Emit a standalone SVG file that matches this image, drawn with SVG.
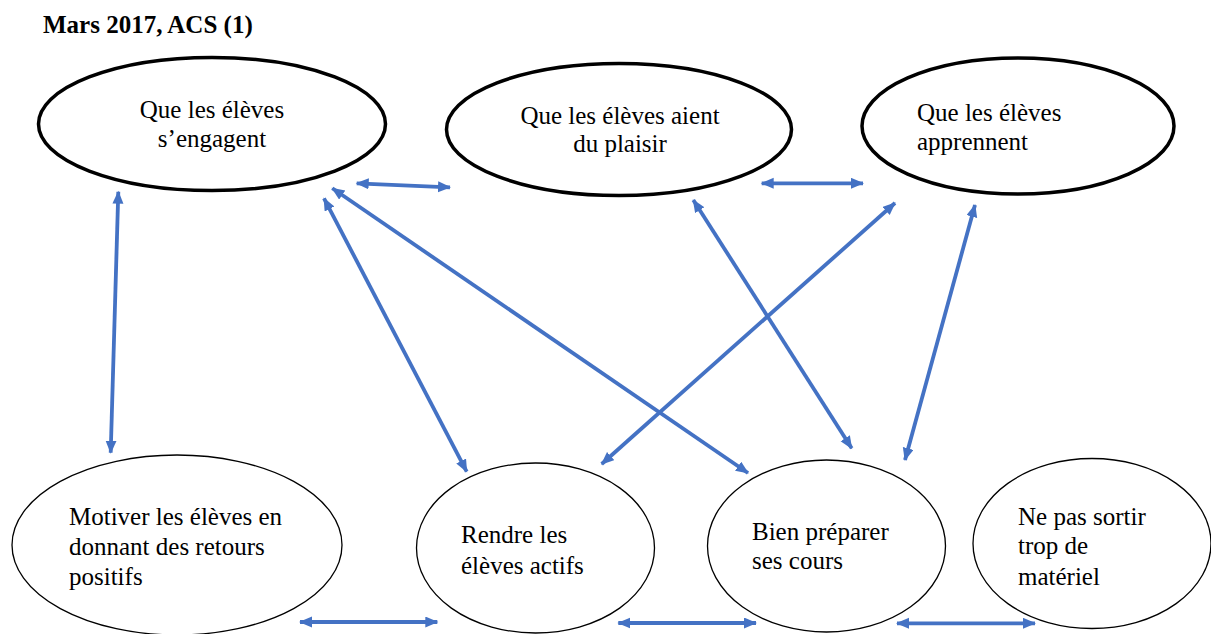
<svg xmlns="http://www.w3.org/2000/svg" width="1211" height="634" viewBox="0 0 1211 634">
<style>
text{font-family:"Liberation Serif","Times New Roman",serif;font-size:25px;fill:#000}
.title{font-weight:bold}
.top{fill:#fff;stroke:#000;stroke-width:3.5}
.bot{fill:#fff;stroke:#000;stroke-width:1.3}
.c{text-anchor:middle}
.arr{stroke:#4472C4;stroke-width:3.8;fill:none;marker-start:url(#ah);marker-end:url(#ah)}
</style>
<defs>
<marker id="ah" markerUnits="userSpaceOnUse" markerWidth="14" markerHeight="12" refX="12" refY="5.5" orient="auto-start-reverse">
<path d="M0,0 L13,5.5 L0,11 z" fill="#4472C4"/>
</marker>
</defs>
<rect width="1211" height="634" fill="#fff"/>
<text class="title" x="43" y="33">Mars 2017, ACS (1)</text>
<g id="n-engagent">
<ellipse class="top" cx="212" cy="124" rx="173.5" ry="66.5"/>
<text class="c" x="212" y="118">Que les élèves</text>
<text class="c" x="212" y="147">s’engagent</text>
</g>
<g id="n-plaisir">
<ellipse class="top" cx="619" cy="129.5" rx="172.5" ry="66"/>
<text class="c" x="620" y="124">Que les élèves aient</text>
<text class="c" x="620" y="152">du plaisir</text>
</g>
<g id="n-apprennent">
<ellipse class="top" cx="1018" cy="126" rx="156" ry="68"/>
<text x="917" y="121">Que les élèves</text>
<text x="917" y="150">apprennent</text>
</g>
<g id="n-motiver">
<ellipse class="bot" cx="177" cy="545" rx="165" ry="90"/>
<text x="69" y="525">Motiver les élèves en</text>
<text x="69" y="555">donnant des retours</text>
<text x="69" y="585">positifs</text>
</g>
<g id="n-actifs">
<ellipse class="bot" cx="535.5" cy="548" rx="119" ry="85"/>
<text x="461" y="543">Rendre les</text>
<text x="461" y="574">élèves actifs</text>
</g>
<g id="n-preparer">
<ellipse class="bot" cx="826.5" cy="546" rx="119" ry="86"/>
<text x="752" y="540">Bien préparer</text>
<text x="752" y="569">ses cours</text>
</g>
<g id="n-materiel">
<ellipse class="bot" cx="1092" cy="543.5" rx="119" ry="85"/>
<text x="1018" y="525">Ne pas sortir</text>
<text x="1018" y="554">trop de</text>
<text x="1018" y="585">matériel</text>
</g>
<g id="connectors">
<line class="arr" x1="356.7" y1="183.3" x2="450" y2="187.3"/>
<line class="arr" x1="761.7" y1="183.3" x2="863" y2="183.3"/>
<line class="arr" x1="118.3" y1="191.7" x2="110.7" y2="452.7"/>
<line class="arr" x1="324" y1="198.3" x2="466.7" y2="471.7"/>
<line class="arr" x1="332.3" y1="188.3" x2="748" y2="473"/>
<line class="arr" x1="693.3" y1="200" x2="851.7" y2="448.3"/>
<line class="arr" x1="895" y1="203" x2="601.7" y2="464"/>
<line class="arr" x1="975" y1="205" x2="905" y2="460"/>
<line class="arr" x1="300" y1="622" x2="437.3" y2="622"/>
<line class="arr" x1="618.3" y1="623" x2="756" y2="623"/>
<line class="arr" x1="897" y1="623.3" x2="1035" y2="623.3"/>
</g>
</svg>
